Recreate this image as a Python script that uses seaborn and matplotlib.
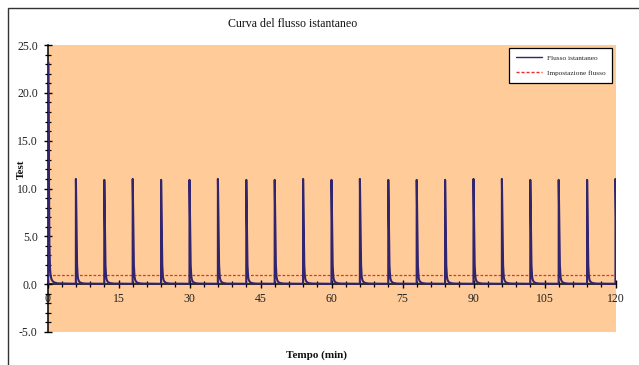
import matplotlib
matplotlib.use("Agg")
import matplotlib.pyplot as plt
from matplotlib.patches import Rectangle
from matplotlib.ticker import MultipleLocator, FormatStrFormatter
import numpy as np
import pandas as pd
import seaborn as sns

# Start time (min) and peak flow of each pulse
pulse_starts = [0.15, 6, 12, 18, 24, 30, 36, 42, 48, 54, 60, 66, 72, 78, 84, 90,
                96, 102, 108, 114, 120]
pulse_peaks = [23.2, 11.0, 10.9, 11.0, 10.9, 10.9, 11.0, 10.9, 10.9, 11.0, 10.9,
               11.0, 10.9, 10.9, 10.9, 11.0, 11.0, 10.9, 10.9, 10.9, 11.0]

# Shape of one pulse: time after onset (min) and fraction of peak reached
pulse_offsets = [0.0, 0.12, 0.25, 0.38, 0.5, 0.7, 1.0, 1.4, 2.0, 5.9]
pulse_shape = [1.0, 0.62, 0.18, 0.07, 0.04, 0.02, 0.01, 0.005, 0.002, 0.0]
baseline = 0.04

setpoint_level = 1.0
time_range = [0, 120]

title_text = "Curva del flusso istantaneo"
x_label = "Tempo (min)"
y_label = "Test"
series_names = ["Flusso istantaneo", "Impostazione flusso"]

# Assemble the instantaneous flow trace pulse by pulse
t_vals, f_vals = [], []
for start, peak in zip(pulse_starts, pulse_peaks):
    t_vals.append(start - 0.01)
    f_vals.append(baseline)
    for off, frac in zip(pulse_offsets, pulse_shape):
        t_vals.append(start + off)
        f_vals.append(baseline + frac * (peak - baseline))
flow = pd.DataFrame({"t": t_vals, "flow": f_vals})
setpoint = pd.DataFrame({"t": time_range, "flow": [setpoint_level] * len(time_range)})

sns.set_theme(style="white")
plt.rcParams["font.family"] = ["Liberation Serif", "DejaVu Serif"]

fig = plt.figure(figsize=(6.39, 3.65), dpi=100)
ax = fig.add_axes([47.5 / 639, 1 - 332 / 365, (615.5 - 47.5) / 639, (332 - 45) / 365])
ax.set_facecolor("#ffcc99")

line_color = "#33246e"
set_color = "#ee2a2a"

sns.lineplot(data=flow, x="t", y="flow", ax=ax, color=line_color, linewidth=1.5,
             label=series_names[0], sort=False, estimator=None, zorder=3)
sns.lineplot(data=setpoint, x="t", y="flow", ax=ax, color=set_color, linewidth=0.9,
             linestyle=(0, (2.2, 1.4)), label=series_names[1], estimator=None, zorder=2)

ax.set_xlim(0, 120)
ax.set_ylim(-5, 25)
ax.set_xlabel("")
ax.set_ylabel("")

# Axes cross at the origin; no frame on top/right
for side in ("top", "right"):
    ax.spines[side].set_visible(False)
ax.spines["bottom"].set_position(("data", 0))
ax.spines["left"].set_position(("data", 0))
for side in ("bottom", "left"):
    ax.spines[side].set_color("black")
    ax.spines[side].set_linewidth(1.1)
    ax.spines[side].set_zorder(1)

ax.xaxis.set_major_locator(MultipleLocator(15))
ax.xaxis.set_minor_locator(MultipleLocator(3))
ax.yaxis.set_major_locator(MultipleLocator(5))
ax.yaxis.set_minor_locator(MultipleLocator(1))
ax.yaxis.set_major_formatter(FormatStrFormatter("%.1f"))
ax.xaxis.set_major_formatter(FormatStrFormatter("%d"))

ax.tick_params(axis="both", which="major", direction="inout", length=6, width=1,
               color="black", labelsize=8.5, labelcolor="#222222", bottom=True, left=True)
ax.tick_params(axis="both", which="minor", direction="inout", length=4, width=0.9,
               color="black", bottom=True, left=True)
ax.tick_params(axis="x", which="major", pad=3)
ax.tick_params(axis="y", which="major", pad=4)

leg = ax.legend(loc="upper right", bbox_to_anchor=(612 / 639, 1 - 48 / 365),
                bbox_transform=fig.transFigure, fontsize=5.2, frameon=True,
                fancybox=False, edgecolor="black", facecolor="white", framealpha=1,
                handlelength=3.6, handletextpad=0.6, borderpad=0.95, labelspacing=1.25,
                borderaxespad=0)
leg.get_frame().set_linewidth(0.9)
leg.set_zorder(5)
for handle in leg.get_lines():
    handle.set_linewidth(1.0)

fig.text(293 / 639, 1 - 24 / 365, title_text, ha="center", va="center", fontsize=8.6,
         color="#111111")
fig.text(316 / 639, 1 - 355 / 365, x_label, ha="center", va="center", fontsize=8,
         fontweight="bold", color="#111111")
fig.text(21 / 639, 1 - 169 / 365, y_label, ha="center", va="center", fontsize=8,
         fontweight="bold", rotation=90, color="#111111")

# Chart frame
fig.patches.append(Rectangle((8 / 639, -0.1), 1.2, 1.1 - 8 / 365, transform=fig.transFigure,
                             fill=False, edgecolor="#333333", linewidth=1.0))

fig.savefig("out.png", dpi=100, facecolor="white")
